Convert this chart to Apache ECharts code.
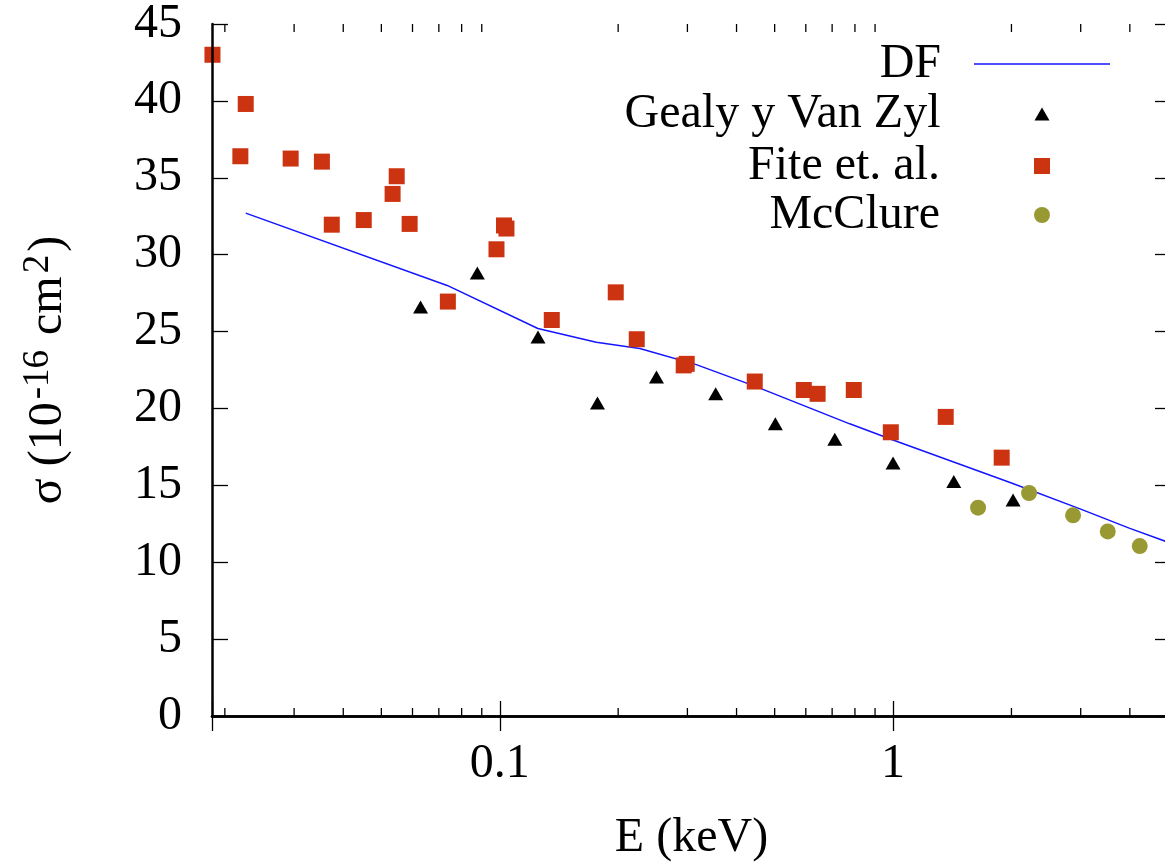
<!DOCTYPE html>
<html>
<head>
<meta charset="utf-8">
<script src="https://cdn.jsdelivr.net/npm/echarts@6/dist/echarts.min.js"></script>
<style>html,body{margin:0;padding:0;background:#fff}#c{width:1165px;height:867px}</style>
</head>
<body>
<div id="c"></div>
<script>
// ---- data ----
const dfE     = [0.0226, 0.0735, 0.125, 0.176, 0.227, 0.316, 0.445, 0.776, 1.0, 2.0, 3.0, 4.0, 5.0];
const dfSigma = [32.7, 28.0, 25.2, 24.3, 23.9, 22.85, 21.45, 19.0, 17.95, 15.15, 13.45, 12.2, 11.3];

const gealyE     = [0.0629, 0.0877, 0.1251, 0.1772, 0.2503, 0.354, 0.502, 0.711, 1.0, 1.427, 2.019];
const gealySigma = [26.6, 28.8, 24.65, 20.35, 22.05, 20.95, 19.0, 18.0, 16.45, 15.25, 14.05];

const fiteE     = [0.0186, 0.0219, 0.0226, 0.0294, 0.0353, 0.0374, 0.0451, 0.0534, 0.0547, 0.0590, 0.0738, 0.0981, 0.1025, 0.1040, 0.1356, 0.1972, 0.2230, 0.2936, 0.2988, 0.445, 0.593, 0.643, 0.7946, 0.987, 1.361, 1.889];
const fiteSigma = [43.0, 36.4, 39.8, 36.25, 36.05, 31.95, 32.25, 33.95, 35.1, 32.0, 26.95, 30.35, 31.9, 31.7, 25.75, 27.55, 24.5, 22.8, 22.9, 21.75, 21.2, 20.95, 21.2, 18.45, 19.45, 16.8];

const mcclureE     = [1.645, 2.217, 2.869, 3.515, 4.239];
const mcclureSigma = [13.55, 14.5, 13.05, 12.0, 11.05];

const seriesNames = ['DF', 'Gealy y Van Zyl', 'Fite et. al.', 'McClure'];
const xRange = [0.01855, 5.09];
const xTickLabels = [0.1, 1];
const xMinorTicks = [0.02, 0.03, 0.04, 0.05, 0.06, 0.07, 0.08, 0.09, 0.2, 0.3, 0.4, 0.5, 0.6, 0.7, 0.8, 0.9, 2, 3, 4, 5];
const yRange = [0, 45];
const yStep = 5;

// ---- chart ----
const FONT = '"Liberation Serif", "Times New Roman", serif';
const pairs = (xs, ys) => xs.map((x, i) => [x, ys[i]]);
const COLORS = ['#1414ff', '#000000', '#cc3311', '#999933'];

const chart = echarts.init(document.getElementById('c'), null, {renderer: 'canvas'});

const baseX = {
  type: 'log', logBase: 10, min: xRange[0], max: xRange[1], z: 10,
  axisLine: {show: true, lineStyle: {color: '#000', width: 2.5}},
  axisTick: {show: true, inside: true, length: 15, lineStyle: {color: '#000', width: 1.3}},
  splitLine: {show: false}, minorTick: {show: false}
};
const baseY = {
  type: 'value', min: yRange[0], max: yRange[1], interval: yStep, z: 10,
  axisLine: {show: true, lineStyle: {color: '#000', width: 2.5}},
  axisTick: {show: true, inside: true, length: 16, lineStyle: {color: '#000', width: 1.3}},
  splitLine: {show: false}
};

// legend layout: [right, top, iconWidth, iconHeight, icon, textPaddingRight]
const legendLayout = [
  [55, 39, 136, 1.6, 'rect', 28],
  [115.5, 89, 15, 13, 'triangle', 89],
  [115, 141, 16, 16, 'rect', 89],
  [115, 190, 16, 16, 'circle', 89]
];

chart.setOption({
  animation: false,
  backgroundColor: '#fff',
  grid: {left: 212, right: -6, top: 24, bottom: 151, containLabel: false, outerBoundsMode: 'none'},
  xAxis: [
    Object.assign({}, baseX, {
      position: 'bottom',
      axisLabel: {
        show: true, margin: 24, fontSize: 48, fontFamily: FONT, color: '#000',
        formatter: function (v) {
          for (const t of xTickLabels) { if (Math.abs(v - t) / t < 1e-6) return String(t); }
          return '';
        }
      },
      name: 'E (keV)', nameLocation: 'middle', nameGap: 98,
      nameTextStyle: {fontSize: 48, fontFamily: FONT, color: '#000'}
    }),
    Object.assign({}, baseX, {position: 'top', axisLabel: {show: false}})
  ],
  yAxis: [
    Object.assign({}, baseY, {
      position: 'left',
      axisLabel: {show: true, margin: 30, fontSize: 48, fontFamily: FONT, color: '#000'},
      name: 'σ (10{sup|-16} cm{sup|2})', nameLocation: 'middle', nameGap: 136,
      nameTextStyle: {
        fontSize: 48, fontFamily: FONT, color: '#000', lineHeight: 56,
        rich: {sup: {fontSize: 37, fontFamily: FONT, color: '#000', lineHeight: 10, verticalAlign: 'top', padding: [0, 3, 0, 3]}}
      }
    }),
    Object.assign({}, baseY, {position: 'right', axisLabel: {show: false}})
  ],
  legend: seriesNames.map((n, i) => ({
    data: [{name: n, icon: legendLayout[i][4], itemStyle: {color: COLORS[i], opacity: 1}}],
    orient: 'vertical', right: legendLayout[i][0], top: legendLayout[i][1], align: 'right',
    itemWidth: legendLayout[i][2], itemHeight: legendLayout[i][3], padding: 0, selectedMode: false,
    textStyle: {fontSize: 48, fontFamily: FONT, color: '#000', lineHeight: 50, padding: [0, legendLayout[i][5], 0, 0]}
  })),
  series: [
    {
      name: seriesNames[0], type: 'line', data: pairs(dfE, dfSigma),
      symbol: 'none', showSymbol: false, smooth: false,
      lineStyle: {color: COLORS[0], width: 1.5}, itemStyle: {color: COLORS[0]},
      emphasis: {disabled: true}, z: 2
    },
    {
      name: seriesNames[1], type: 'scatter', data: pairs(gealyE, gealySigma),
      symbol: 'triangle', symbolSize: [15, 13], itemStyle: {color: COLORS[1], opacity: 1},
      emphasis: {disabled: true}, z: 3
    },
    {
      name: seriesNames[2], type: 'scatter', data: pairs(fiteE, fiteSigma),
      symbol: 'rect', symbolSize: 16, itemStyle: {color: COLORS[2], opacity: 1},
      emphasis: {disabled: true}, z: 4
    },
    {
      name: seriesNames[3], type: 'scatter', data: pairs(mcclureE, mcclureSigma),
      symbol: 'circle', symbolSize: 16, itemStyle: {color: COLORS[3], opacity: 1},
      emphasis: {disabled: true}, z: 5
    },
    {
      name: 'minorTicks', type: 'custom', silent: true, clip: false, z: 20,
      data: xMinorTicks.map(v => [v, yRange[0]]),
      encode: {x: 0, y: 1},
      renderItem: function (params, api) {
        const v = api.value(0);
        const b = api.coord([v, yRange[0]]);
        const t = api.coord([v, yRange[1]]);
        const st = {stroke: '#000', lineWidth: 1.3};
        return {type: 'group', children: [
          {type: 'line', shape: {x1: b[0], y1: b[1], x2: b[0], y2: b[1] - 8}, style: st},
          {type: 'line', shape: {x1: t[0], y1: t[1], x2: t[0], y2: t[1] + 8}, style: st}
        ]};
      }
    }
  ]
});
</script>
</body>
</html>
